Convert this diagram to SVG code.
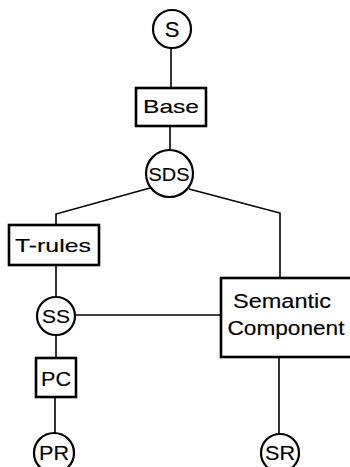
<svg xmlns="http://www.w3.org/2000/svg" width="350" height="467" viewBox="0 0 350 467">
<style>
.n{fill:#fff;stroke:#000;stroke-width:2.2}
.b{fill:#fff;stroke:#000;stroke-width:2.6}
.c{fill:none;stroke:#000;stroke-width:1.6}
text{font-family:"Liberation Sans","DejaVu Sans",sans-serif;font-size:19px;fill:#000;stroke:#000;stroke-width:0.15;text-anchor:middle}
</style>
<rect width="350" height="467" fill="#fff"/>
<g id="connectors">
<line class="c" x1="171" y1="48" x2="171" y2="88"/>
<line class="c" x1="170" y1="126" x2="170" y2="151"/>
<polyline class="c" points="150,188 56,214 56,225"/>
<polyline class="c" points="189,189 280,213 280,278"/>
<line class="c" x1="56" y1="265" x2="56" y2="297"/>
<line class="c" x1="75" y1="315" x2="221" y2="315"/>
<line class="c" x1="56" y1="335" x2="56" y2="358"/>
<line class="c" x1="55" y1="397" x2="55" y2="433"/>
<line class="c" x1="279" y1="357" x2="279" y2="433"/>
</g>
<g id="S"><circle class="n" cx="172" cy="29" r="19"/><text x="172" y="37" style="font-size:22px">S</text></g>
<g id="Base"><rect class="b" x="136" y="88" width="70" height="38"/><text x="171" y="113" textLength="56" lengthAdjust="spacingAndGlyphs">Base</text></g>
<g id="SDS"><circle class="n" cx="169.5" cy="173.5" r="23.5"/><text x="169" y="181" textLength="41" lengthAdjust="spacingAndGlyphs">SDS</text></g>
<g id="T-rules"><rect class="b" x="9" y="225" width="90" height="40"/><text x="53" y="252" textLength="76" lengthAdjust="spacingAndGlyphs">T-rules</text></g>
<g id="SS"><circle class="n" cx="56" cy="316" r="19"/><text x="56" y="323" textLength="28" lengthAdjust="spacingAndGlyphs">SS</text></g>
<g id="Semantic"><rect class="b" x="221" y="278" width="135" height="79"/><text x="282" y="308" textLength="98" lengthAdjust="spacingAndGlyphs" style="font-size:20px">Semantic</text><text x="286" y="335" textLength="117" lengthAdjust="spacingAndGlyphs" style="font-size:20px">Component</text></g>
<g id="PC"><rect class="b" x="36" y="358" width="40" height="39"/><text x="56" y="386" textLength="30" lengthAdjust="spacingAndGlyphs" style="font-size:20px">PC</text></g>
<g id="PR"><circle class="n" cx="54" cy="453" r="20"/><text x="54" y="460" textLength="30" lengthAdjust="spacingAndGlyphs" style="font-size:20px">PR</text></g>
<g id="SR"><circle class="n" cx="280" cy="453" r="19"/><text x="280" y="460" textLength="30" lengthAdjust="spacingAndGlyphs" style="font-size:20px">SR</text></g>
</svg>
